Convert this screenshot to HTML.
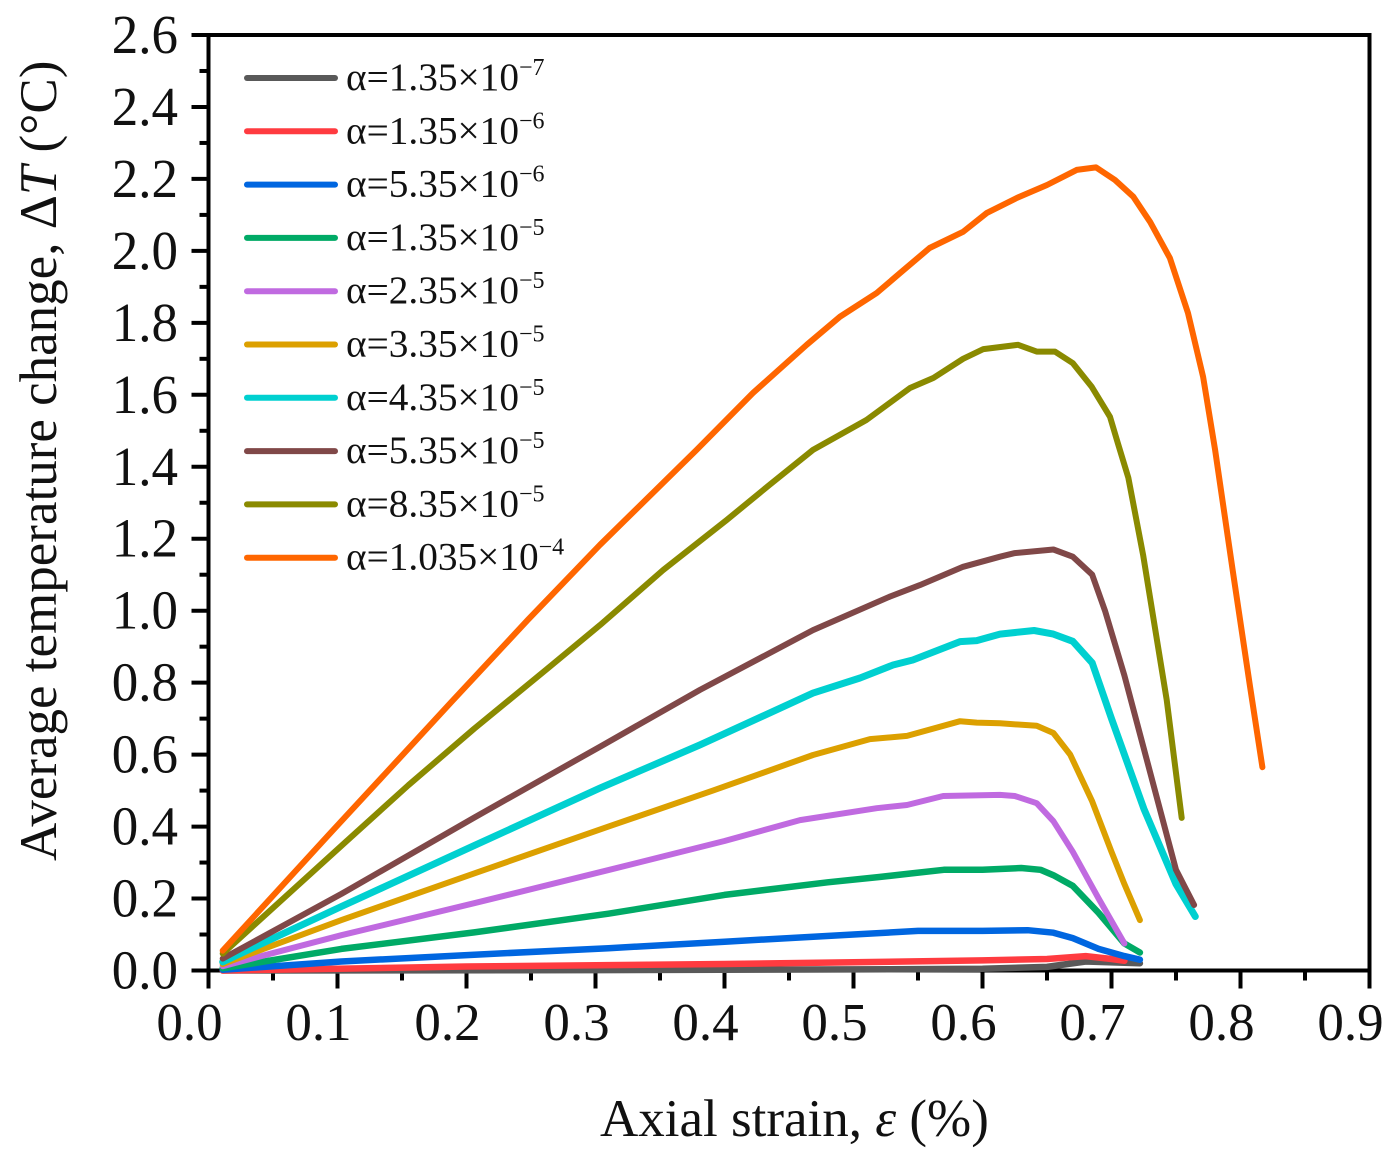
<!DOCTYPE html>
<html lang="en">
<head>
<meta charset="utf-8">
<title>Average temperature change vs axial strain</title>
<style>
html,body{margin:0;padding:0;background:#fff;width:1398px;height:1163px;overflow:hidden}
svg{display:block;font-family:"Liberation Serif",serif;fill:#111}
</style>
</head>
<body>
<svg id="chart" width="1398" height="1163" viewBox="0 0 1398 1163">
<g id="axes"></g>
<g id="series"></g>
<g id="legend"></g>
<text transform="translate(56,861) rotate(-90)" font-size="53">Average temperature change, Δ<tspan font-style="italic">T</tspan> (°C)</text>
<text transform="translate(600,1136)" font-size="53">Axial strain, <tspan font-style="italic">ε</tspan> (%)</text>
</svg>
<script>
const xTicks = ["0.0","0.1","0.2","0.3","0.4","0.5","0.6","0.7","0.8","0.9"];
const yTicks = ["0.0","0.2","0.4","0.6","0.8","1.0","1.2","1.4","1.6","1.8","2.0","2.2","2.4","2.6"];
const seriesLabels = ["α=1.35×10","α=1.35×10","α=5.35×10","α=1.35×10","α=2.35×10","α=3.35×10","α=4.35×10","α=5.35×10","α=8.35×10","α=1.035×10"];
const seriesExponents = ["−7","−6","−6","−5","−5","−5","−5","−5","−5","−4"];
const seriesNames = ["gray","red","blue","green","purple","yellow","cyan","brown","olive","orange"];

const xGray = [0.011,0.3,0.5,0.6,0.65,0.68,0.722];
const yGray = [0,0.001,0.003,0.005,0.01,0.025,0.02];
const xRed = [0.011,0.1,0.2,0.31,0.4,0.5,0.6,0.65,0.68,0.7,0.71];
const yRed = [0,0.005,0.011,0.015,0.018,0.023,0.028,0.032,0.04,0.032,0.027];
const xBlue = [0.011,0.103,0.206,0.31,0.4,0.5,0.55,0.6,0.635,0.655,0.67,0.69,0.71,0.722];
const yBlue = [0.002,0.025,0.044,0.062,0.08,0.1,0.11,0.11,0.112,0.105,0.09,0.06,0.04,0.03];
const xGreen = [0.011,0.103,0.206,0.31,0.4,0.48,0.52,0.545,0.57,0.6,0.63,0.645,0.655,0.67,0.69,0.71,0.722];
const yGreen = [0.006,0.06,0.106,0.158,0.21,0.245,0.26,0.27,0.28,0.28,0.285,0.28,0.265,0.235,0.16,0.075,0.05];
const xPurple = [0.011,0.103,0.206,0.31,0.4,0.4585,0.518,0.5415,0.5695,0.6136,0.625,0.642,0.655,0.67,0.69,0.71];
const yPurple = [0.012,0.098,0.187,0.279,0.36,0.418,0.451,0.46,0.485,0.488,0.485,0.465,0.415,0.33,0.2,0.075];
const xYellow = [0.011,0.103,0.206,0.31,0.391,0.4686,0.5128,0.5415,0.5826,0.5955,0.6136,0.642,0.655,0.668,0.685,0.7,0.71,0.722];
const yYellow = [0.018,0.14,0.27,0.4,0.5,0.599,0.643,0.652,0.693,0.689,0.687,0.68,0.66,0.6,0.47,0.33,0.24,0.14];
const xCyan = [0.011,0.103,0.206,0.3035,0.381,0.4686,0.505,0.5306,0.546,0.5826,0.5955,0.6136,0.64,0.655,0.67,0.685,0.7,0.725,0.75,0.765];
const yCyan = [0.024,0.178,0.347,0.507,0.627,0.771,0.813,0.849,0.863,0.914,0.917,0.935,0.945,0.935,0.915,0.855,0.7,0.45,0.24,0.15];
const xBrown = [0.011,0.103,0.206,0.3035,0.381,0.4686,0.528,0.5515,0.585,0.6136,0.625,0.655,0.67,0.685,0.695,0.71,0.73,0.75,0.764];
const yBrown = [0.033,0.213,0.425,0.622,0.78,0.946,1.039,1.071,1.122,1.15,1.16,1.17,1.15,1.1,1.0,0.82,0.55,0.28,0.182];
const xOlive = [0.011,0.104,0.155,0.206,0.263,0.3035,0.3525,0.4017,0.435,0.4686,0.51,0.5438,0.562,0.585,0.6007,0.6275,0.642,0.6562,0.67,0.6847,0.6988,0.705,0.713,0.7245,0.7428,0.7544];
const yOlive = [0.047,0.35,0.515,0.672,0.84,0.96,1.113,1.252,1.35,1.447,1.53,1.619,1.647,1.7,1.727,1.739,1.72,1.72,1.688,1.622,1.539,1.465,1.37,1.155,0.752,0.424];
const xOrange = [0.011,0.0926,0.1365,0.188,0.2477,0.3035,0.3784,0.422,0.4637,0.4895,0.518,0.536,0.559,0.585,0.6032,0.6265,0.65,0.673,0.688,0.7027,0.7168,0.73,0.7453,0.7593,0.771,0.7803,0.794,0.8074,0.817];
const yOrange = [0.055,0.375,0.545,0.745,0.975,1.183,1.447,1.605,1.739,1.817,1.883,1.938,2.008,2.053,2.105,2.147,2.183,2.225,2.232,2.197,2.151,2.08,1.98,1.827,1.65,1.447,1.11,0.79,0.565];

const NS = "http://www.w3.org/2000/svg";
const plotLeft = 208.5, plotRight = 1369.5, plotTop = 35, plotBottom = 970.5;
const xMax = 0.9, yMax = 2.6;
const sx = v => plotLeft + (v / xMax) * (plotRight - plotLeft);
const sy = v => plotBottom - (v / yMax) * (plotBottom - plotTop);
const colors = ["#595959","#ff3b40","#0066e0","#00aa66","#c06ae0","#dca000","#00d0d0","#804848","#8a8a00","#ff6600"];
const widths = [6.5,6.5,6.5,6.5,6,6,7,6,6,6];
const allX = [xGray,xRed,xBlue,xGreen,xPurple,xYellow,xCyan,xBrown,xOlive,xOrange];
const allY = [yGray,yRed,yBlue,yGreen,yPurple,yYellow,yCyan,yBrown,yOlive,yOrange];

function mk(tag, attrs, parent) {
  const el = document.createElementNS(NS, tag);
  for (const k in attrs) el.setAttribute(k, attrs[k]);
  parent.appendChild(el);
  return el;
}
const axes = document.getElementById("axes");
const seriesG = document.getElementById("series");
const legendG = document.getElementById("legend");

const frame = mk("rect", {x:plotLeft, y:plotTop, width:plotRight-plotLeft, height:plotBottom-plotTop, fill:"none", stroke:"#000", "stroke-width":4}, axes);



xTicks.forEach((t, i) => {
  const v = parseFloat(t);
  const tick = mk("line", {x1:sx(v), x2:sx(v), y1:plotBottom, y2:plotBottom+18, stroke:"#000", "stroke-width":4}, axes);
  
  
  const label = mk("text", {transform:`translate(${sx(v)-19},1040)`, "text-anchor":"middle", "font-size":53}, axes);
  label.textContent = t;
  
  
  if (i < xTicks.length - 1) {
    const minor = mk("line", {x1:sx(v+0.05), x2:sx(v+0.05), y1:plotBottom, y2:plotBottom+10, stroke:"#000", "stroke-width":4}, axes);
    
    
  }
});
yTicks.forEach((t, i) => {
  const v = parseFloat(t);
  const tick = mk("line", {x1:plotLeft-17, x2:plotLeft, y1:sy(v), y2:sy(v), stroke:"#000", "stroke-width":4}, axes);
  
  
  const label = mk("text", {transform:`translate(178,${sy(v)+18}) scale(1,1.04)`, "text-anchor":"end", "font-size":53}, axes);
  label.textContent = t;
  
  
  if (i < yTicks.length - 1) {
    const minor = mk("line", {x1:plotLeft-9, x2:plotLeft, y1:sy(v+0.1), y2:sy(v+0.1), stroke:"#000", "stroke-width":4}, axes);
    
    
  }
});

allX.forEach((xs, s) => {
  const pts = xs.map((x, i) => sx(x).toFixed(1) + "," + sy(allY[s][i]).toFixed(1)).join(" ");
  const line = mk("polyline", {points:pts, fill:"none", stroke:colors[s], "stroke-width":widths[s], "stroke-linejoin":"round", "stroke-linecap":"round"}, seriesG);
  
  

  const ly = 78 + s * 53.3;
  const swatch = mk("line", {x1:247, x2:335, y1:ly, y2:ly, stroke:colors[s], "stroke-width":6, "stroke-linecap":"round"}, legendG);
  
  
  const txt = mk("text", {transform:`translate(346,${ly+12})`, "font-size":39.3}, legendG);
  txt.textContent = seriesLabels[s];
  
  
  const sup = mk("tspan", {"font-size":24, dy:-15}, txt);
  sup.textContent = seriesExponents[s];
});
</script>
</body>
</html>
